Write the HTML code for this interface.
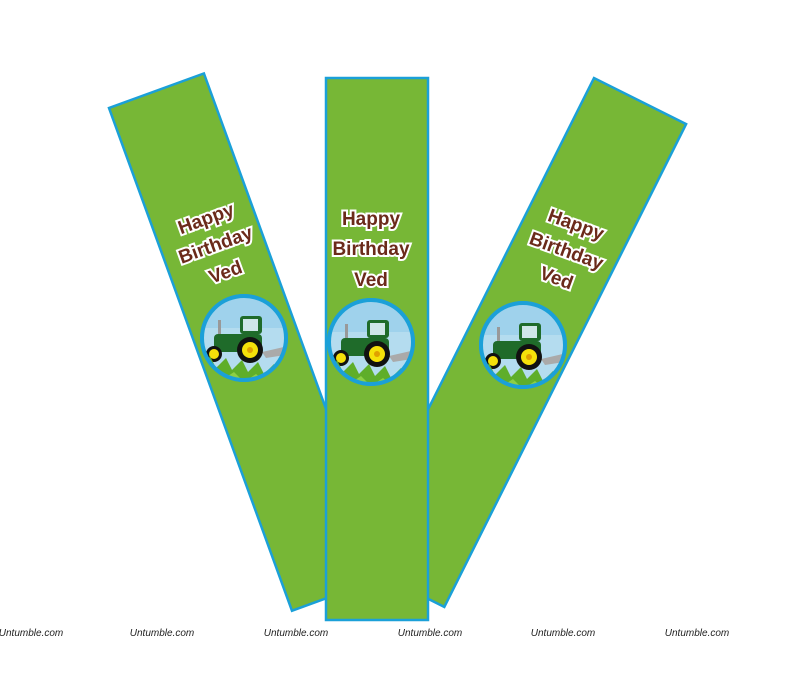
<!DOCTYPE html>
<html><head><style>
html,body{margin:0;padding:0;background:#fff;}
svg{display:block}
.t{font-family:"Liberation Sans",sans-serif;font-weight:bold;font-size:19px;fill:#6b2a1a;stroke:#fff;stroke-width:4px;paint-order:stroke;text-anchor:middle}
.w{font-family:"Liberation Sans",sans-serif;font-style:italic;font-size:10px;fill:#222;text-anchor:middle}
</style></head><body>
<svg width="800" height="694" viewBox="0 0 800 694">
<defs>
<clipPath id="cc"><circle cx="0" cy="0" r="42"/></clipPath>
<g id="badge">
<circle r="44" fill="#1ba0d8"/>
<g clip-path="url(#cc)">
<rect x="-50" y="-50" width="100" height="100" fill="#b4dcef"/>
<rect x="-50" y="-50" width="100" height="40" fill="#9fd2ec"/>
<rect x="-4" y="-22" width="22" height="18" rx="3" fill="#1f6b2a"/>
<rect x="-1" y="-19" width="15" height="12" fill="#cfe6e8"/>
<rect x="-30" y="-4" width="48" height="18" rx="4" fill="#1f6b2a"/>
<rect x="-26" y="-18" width="3" height="14" fill="#999"/>
<path d="M18 14 L44 8 L48 16 L22 20Z" fill="#aaa"/>
<circle cx="6" cy="12" r="13" fill="#111"/><circle cx="6" cy="12" r="8" fill="#f5e10a"/><circle cx="6" cy="12" r="3" fill="#e0a000"/>
<circle cx="-30" cy="16" r="8" fill="#111"/><circle cx="-30" cy="16" r="5" fill="#f5e10a"/>
<path d="M-50 50 L-50 24 L-40 30 L-34 18 L-28 30 L-18 20 L-12 32 L-2 22 L4 34 L14 24 L20 36 L30 26 L36 36 L50 28 L50 50Z" fill="#5fae2a"/>
<path d="M-50 50 L-46 34 L-38 40 L-30 30 L-22 42 L-10 34 L0 44 L12 36 L24 46 L36 38 L50 44 L50 50Z" fill="#8ccf45"/>
</g>
<circle r="42" fill="none" stroke="#1ba0d8" stroke-width="4"/>
</g>
</defs>
<g transform="translate(109,108) rotate(-20)">
<rect x="0" y="0" width="101" height="535" fill="#77b736" stroke="#1ba0d8" stroke-width="2.5"/>
</g>
<g transform="translate(594,78) rotate(26.6)">
<rect x="0" y="0" width="103" height="540" fill="#77b736" stroke="#1ba0d8" stroke-width="2.5"/>
</g>
<rect x="326" y="78" width="102" height="542" fill="#77b736" stroke="#1ba0d8" stroke-width="2.5"/>

<g transform="translate(216,246) rotate(-20)">
<text class="t" x="0" y="-23">Happy</text>
<text class="t" x="0" y="5">Birthday</text>
<text class="t" x="0" y="34">Ved</text>
</g>
<text class="t" x="371" y="225">Happy</text>
<text class="t" x="371" y="255">Birthday</text>
<text class="t" x="371" y="286">Ved</text>
<g transform="translate(566,252) rotate(20)">
<text class="t" x="0" y="-23">Happy</text>
<text class="t" x="0" y="5">Birthday</text>
<text class="t" x="0" y="34">Ved</text>
</g>

<use href="#badge" transform="translate(244,338)"/>
<use href="#badge" transform="translate(371,342)"/>
<use href="#badge" transform="translate(523,345)"/>

<text class="w" x="31" y="636">Untumble.com</text>
<text class="w" x="162" y="636">Untumble.com</text>
<text class="w" x="296" y="636">Untumble.com</text>
<text class="w" x="430" y="636">Untumble.com</text>
<text class="w" x="563" y="636">Untumble.com</text>
<text class="w" x="697" y="636">Untumble.com</text>
</svg>
</body></html>
